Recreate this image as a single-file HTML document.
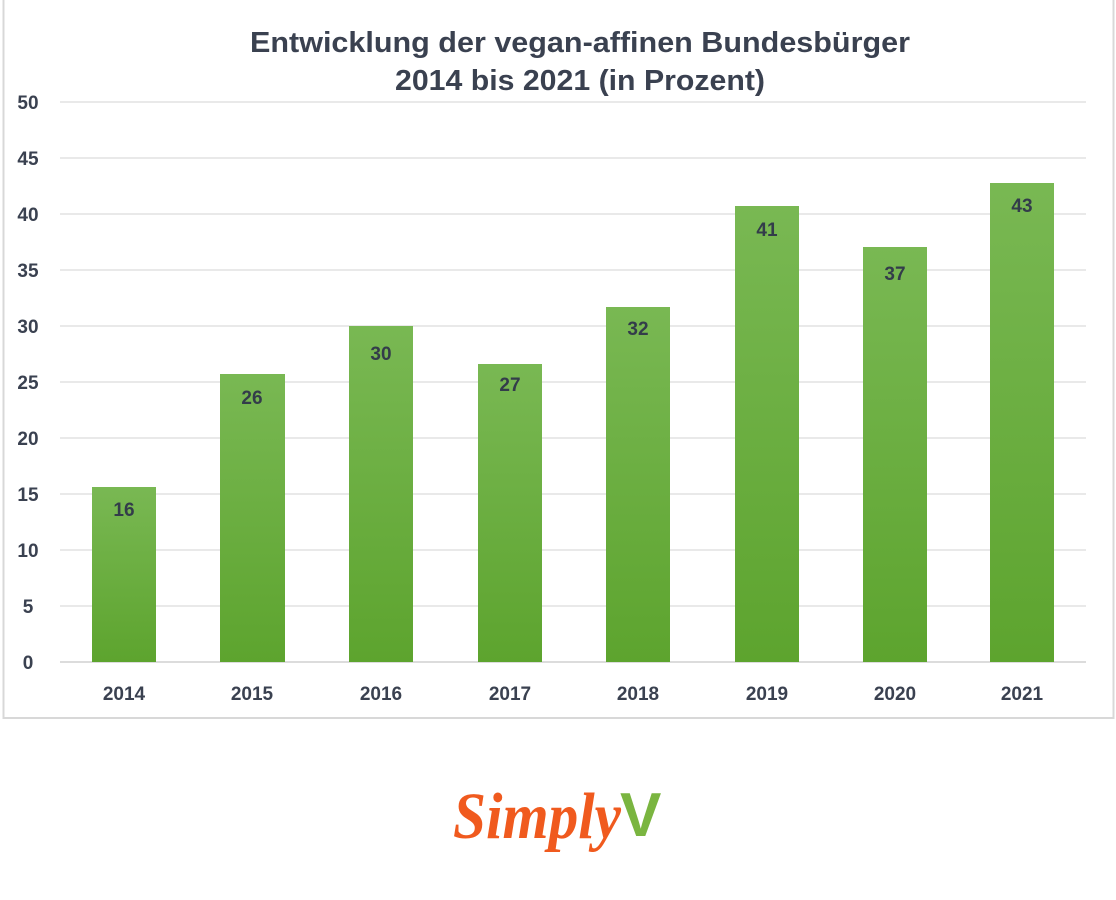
<!DOCTYPE html>
<html><head><meta charset="utf-8"><style>
html,body{margin:0;padding:0;background:#fff;}
svg{display:block;}
</style></head><body>
<svg width="1116" height="900" xmlns="http://www.w3.org/2000/svg" font-family="Liberation Sans, sans-serif">
<defs>
<linearGradient id="g" x1="0" y1="0" x2="0" y2="1">
<stop offset="0" stop-color="#79b853"/><stop offset="1" stop-color="#5da42e"/>
</linearGradient>
</defs>
<rect x="3.5" y="-2" width="1110" height="720" fill="none" stroke="#d8d8d8" stroke-width="2"/>
<text x="580" y="52" text-anchor="middle" font-size="29" font-weight="bold" fill="#3a4150" textLength="660" lengthAdjust="spacingAndGlyphs">Entwicklung der vegan-affinen Bundesbürger</text>
<text x="580" y="90" text-anchor="middle" font-size="29" font-weight="bold" fill="#3a4150" textLength="370" lengthAdjust="spacingAndGlyphs">2014 bis 2021 (in Prozent)</text>
<g stroke="#e2e2e2" stroke-width="1.5">
<line x1="60" x2="1086" y1="102" y2="102"/><line x1="60" x2="1086" y1="158" y2="158"/>
<line x1="60" x2="1086" y1="214" y2="214"/><line x1="60" x2="1086" y1="270" y2="270"/>
<line x1="60" x2="1086" y1="326" y2="326"/><line x1="60" x2="1086" y1="382" y2="382"/>
<line x1="60" x2="1086" y1="438" y2="438"/><line x1="60" x2="1086" y1="494" y2="494"/>
<line x1="60" x2="1086" y1="550" y2="550"/><line x1="60" x2="1086" y1="606" y2="606"/>
<line x1="60" x2="1086" y1="662" y2="662" stroke="#d0d0d0"/>
</g>
<g font-size="19" font-weight="bold" fill="#3a4150" text-anchor="middle">
<text x="28" y="109">50</text><text x="28" y="165">45</text><text x="28" y="221">40</text>
<text x="28" y="277">35</text><text x="28" y="333">30</text><text x="28" y="389">25</text>
<text x="28" y="445">20</text><text x="28" y="501">15</text><text x="28" y="557">10</text>
<text x="28" y="613">5</text><text x="28" y="669">0</text>
</g>
<g fill="url(#g)">
<rect x="92" y="487" width="64" height="175"/>
<rect x="220" y="374" width="65" height="288"/>
<rect x="349" y="326" width="64" height="336"/>
<rect x="478" y="364" width="64" height="298"/>
<rect x="606" y="307" width="64" height="355"/>
<rect x="735" y="206" width="64" height="456"/>
<rect x="863" y="247" width="64" height="415"/>
<rect x="990" y="183" width="64" height="479"/>
</g>
<g font-size="19" font-weight="bold" fill="#333c4a" text-anchor="middle">
<text x="124" y="516">16</text><text x="252" y="404">26</text><text x="381" y="360">30</text>
<text x="510" y="391">27</text><text x="638" y="335">32</text><text x="767" y="236">41</text>
<text x="895" y="280">37</text><text x="1022" y="212">43</text>
</g>
<g font-size="19" font-weight="bold" fill="#3a4150" text-anchor="middle">
<text x="124" y="700">2014</text><text x="252" y="700">2015</text><text x="381" y="700">2016</text>
<text x="510" y="700">2017</text><text x="638" y="700">2018</text><text x="767" y="700">2019</text>
<text x="895" y="700">2020</text><text x="1022" y="700">2021</text>
</g>
<text x="453" y="838" font-family="Liberation Serif, serif" font-style="italic" font-weight="bold" font-size="66" fill="#f05a1e" textLength="168" lengthAdjust="spacingAndGlyphs">Simply</text>
<text x="620" y="836" font-family="Liberation Sans, sans-serif" font-weight="bold" font-size="62" fill="#7ab540">V</text>
</svg>
</body></html>
